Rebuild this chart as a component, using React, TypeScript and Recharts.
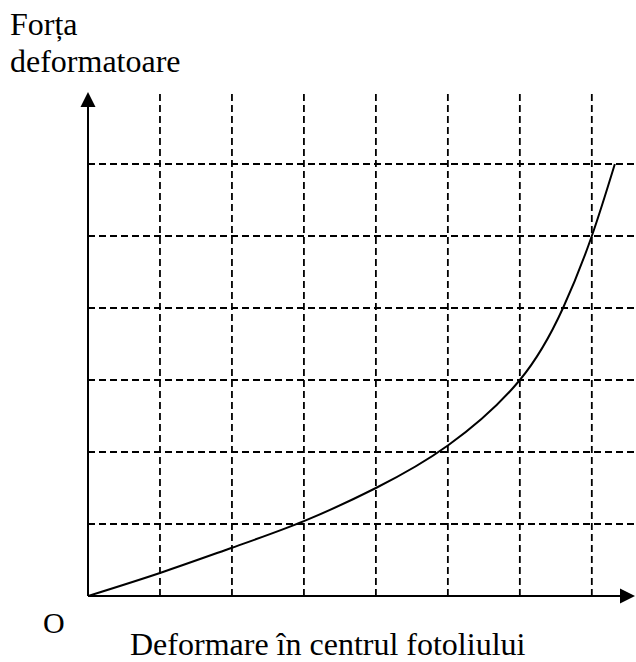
import React from "react";
import { LineChart, Line, XAxis, YAxis, ReferenceLine } from "recharts";

// values, in grid units
const deformation = [0, 1, 2, 3, 4, 5, 6, 6.6, 7, 7.32];
const force = [0, 0.32, 0.67, 1.04, 1.5, 2.09, 3, 4, 5, 6];
const gridX = [1, 2, 3, 4, 5, 6, 7];
const gridY = [1, 2, 3, 4, 5, 6];
const xMax = 7.6;
const yMax = 7;

const yTitle = ["Forța", "deformatoare"];
const xTitle = "Deformare în centrul fotoliului";
const originLabel = "O";

const data = deformation.map((d, i) => ({ d, f: force[i] }));

const serif = '"Liberation Serif", "Times New Roman", serif';

const Arrow = (p: any) => {
  const { x1, y1, x2, y2 } = p;
  const a = Math.atan2(y2 - y1, x2 - x1);
  const L = 15;
  const W = 7.5;
  const bx = x2 - L * Math.cos(a);
  const by = y2 - L * Math.sin(a);
  const px = -Math.sin(a) * W;
  const py = Math.cos(a) * W;
  return (
    <g>
      <line x1={x1} y1={y1} x2={bx} y2={by} stroke="#000" strokeWidth={2} />
      <polygon
        points={`${x2},${y2} ${bx + px},${by + py} ${bx - px},${by - py}`}
        fill="#000"
      />
    </g>
  );
};

function App() {
  return (
    <div style={{ position: "absolute", left: 0, top: 0, width: 636, height: 662, background: "#fff" }}>
      <LineChart
        width={636}
        height={662}
        data={data}
        margin={{ top: 92, right: 1, left: 88, bottom: 66 }}
      >
        <XAxis type="number" dataKey="d" domain={[0, xMax]} hide allowDataOverflow />
        <YAxis type="number" domain={[0, yMax]} hide allowDataOverflow />
        {gridX.map((g) => (
          <ReferenceLine
            key={"vx" + g}
            segment={[{ x: g, y: 0 }, { x: g, y: yMax }]}
            stroke="#000"
            strokeWidth={1.8}
            strokeDasharray="7 4"
          />
        ))}
        {gridY.map((g) => (
          <ReferenceLine
            key={"hy" + g}
            segment={[{ x: 0, y: g }, { x: xMax, y: g }]}
            stroke="#000"
            strokeWidth={1.8}
            strokeDasharray="7 4"
          />
        ))}
        <ReferenceLine segment={[{ x: 0, y: 0 }, { x: xMax, y: 0 }]} shape={Arrow} />
        <ReferenceLine segment={[{ x: 0, y: 0 }, { x: 0, y: yMax }]} shape={Arrow} />
        <Line
          type="natural"
          dataKey="f"
          stroke="#000"
          strokeWidth={2}
          dot={false}
          isAnimationActive={false}
        />
      </LineChart>
      <svg
        width={636}
        height={662}
        style={{ position: "absolute", left: 0, top: 0, pointerEvents: "none" }}
      >
        <g fontFamily={serif} fontSize={32} fill="#000">
          <text x={10} y={35}>{yTitle[0]}</text>
          <text x={10} y={72}>{yTitle[1]}</text>
          <text x={43} y={633} fontSize={30}>{originLabel}</text>
          <text x={130} y={655}>{xTitle}</text>
        </g>
      </svg>
    </div>
  );
}

export default App;
